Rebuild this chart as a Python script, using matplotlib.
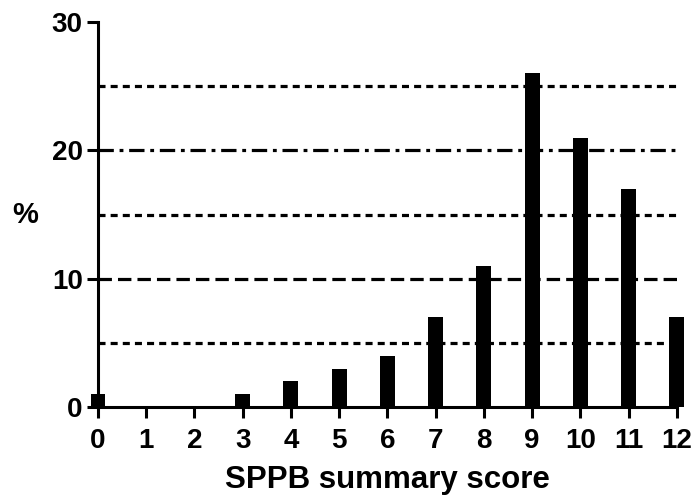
import matplotlib.pyplot as plt

plt.rcParams['font.family'] = ['Liberation Sans', 'DejaVu Sans']
plt.rcParams['font.weight'] = 'bold'

scores = list(range(13))
percent = [1, 0, 0, 1, 2, 3, 4, 7, 11, 26, 21, 17, 7]
y_ticks = [0, 10, 20, 30]

fig = plt.figure(figsize=(6.97, 5.01), dpi=100)
ax = fig.add_axes([0.1406, 0.1876, 0.971 - 0.1406, 0.956 - 0.1876])

# reference lines
ax.axhline(5, color='black', lw=2.3, dashes=(2.2, 1.6), zorder=1)
ax.axhline(15, color='black', lw=2.3, dashes=(2.2, 1.6), zorder=1)
ax.axhline(25, color='black', lw=2.3, dashes=(2.2, 1.6), zorder=1)
ax.axhline(10, color='black', lw=2.3, dashes=(4.2, 1.9), zorder=1)
ax.axhline(20, color='black', lw=2.3, dashes=(4.8, 1.8, 1.2, 1.8), zorder=1)

ax.bar(scores, percent, width=0.31, color='black', zorder=2, clip_on=False)

ax.set_xlim(0, 12)
ax.set_ylim(0, 30)
ax.set_xticks(scores)
ax.set_yticks(y_ticks)
ax.tick_params(axis='both', direction='out', length=8, width=2.2, labelsize=20)
ax.tick_params(axis='x', pad=7)
ax.tick_params(axis='y', pad=3)
for lab in ax.get_xticklabels() + ax.get_yticklabels():
    lab.set_fontweight('bold')

for s in ['top', 'right']:
    ax.spines[s].set_visible(False)
for s in ['left', 'bottom']:
    ax.spines[s].set_linewidth(2.2)
    ax.spines[s].set_zorder(3)

ax.set_xlabel('SPPB summary score', fontsize=22.5, fontweight='bold', labelpad=8)
fig.text(0.036, 0.57, '%', fontsize=21, fontweight='bold', ha='center', va='center')

fig.savefig('out.png', dpi=100)
